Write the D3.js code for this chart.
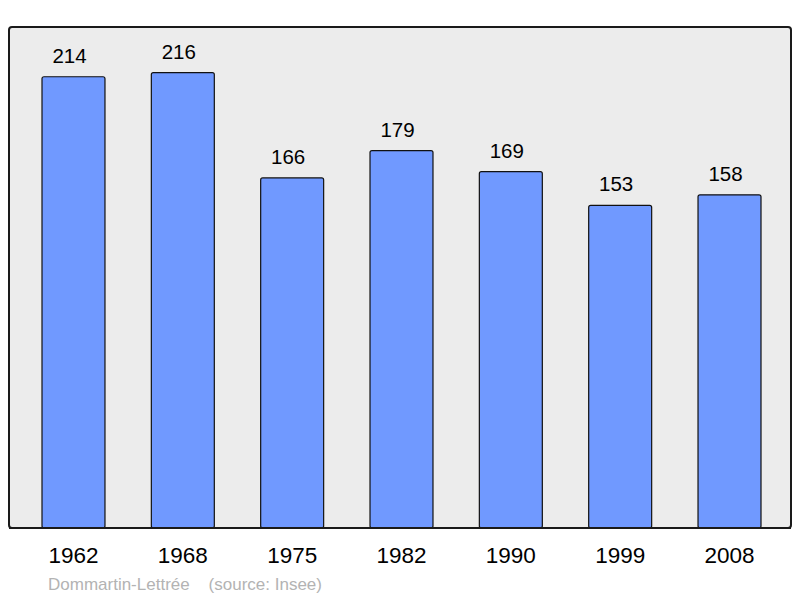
<!DOCTYPE html>
<html>
<head>
<meta charset="utf-8">
<script src="https://cdn.jsdelivr.net/npm/d3@7"></script>
<style>
  body { margin: 0; background: #fff; }
  svg { display: block; font-family: 'Liberation Sans', Arial, sans-serif; }
</style>
</head>
<body>
<div id="chart"></div>
<script>
const years = ['1962', '1968', '1975', '1982', '1990', '1999', '2008'];
const population = [214, 216, 166, 179, 169, 153, 158];
const caption = 'Dommartin-Lettrée    (source: Insee)';

const width = 800;
const height = 598;
const frame = { left: 9, right: 791, top: 27, bottom: 528 };

const svg = d3.select('#chart').append('svg')
  .attr('width', width)
  .attr('height', height)
  .attr('viewBox', [0, 0, width, height]);

const x = d3.scaleBand()
  .domain(years)
  .range([42, 761])
  .paddingInner(0.424)
  .paddingOuter(0);

const y = d3.scaleLinear()
  .domain([0, d3.max(population) * 1.1])
  .range([frame.bottom, frame.top]);

// background frame
svg.append('rect')
  .attr('x', frame.left)
  .attr('y', frame.top)
  .attr('width', frame.right - frame.left)
  .attr('height', frame.bottom - frame.top)
  .attr('rx', 3)
  .attr('fill', '#ececec')
  .attr('stroke', '#1a1a1a')
  .attr('stroke-width', 2);

const data = years.map((yr, i) => ({ year: yr, value: population[i] }));

svg.append('g')
  .selectAll('rect')
    .data(data)
  .enter().append('rect')
    .attr('x', d => x(d.year))
    .attr('y', d => y(d.value))
    .attr('width', x.bandwidth())
    .attr('height', d => frame.bottom - y(d.value))
    .attr('rx', 2)
    .attr('fill', '#7099ff')
    .attr('stroke', '#111')
    .attr('stroke-width', 1.2);

// redraw bottom edge of frame over bars
svg.append('line')
  .attr('x1', frame.left)
  .attr('x2', frame.right)
  .attr('y1', frame.bottom)
  .attr('y2', frame.bottom)
  .attr('stroke', '#1a1a1a')
  .attr('stroke-width', 2);

svg.append('g')
  .selectAll('text')
    .data(data)
  .enter().append('text')
    .attr('x', d => x(d.year) + x.bandwidth() / 2 - 4)
    .attr('y', d => y(d.value) - 14)
    .attr('text-anchor', 'middle')
    .attr('font-size', 20.5)
    .attr('fill', '#000')
    .text(d => d.value);

// x axis labels
svg.append('g')
  .attr('transform', `translate(0,${frame.bottom})`)
  .call(d3.axisBottom(x).tickSize(0).tickPadding(19))
  .attr('font-size', 22.5)
  .attr('font-family', null)
  .call(g => g.select('.domain').remove())
  .selectAll('text').attr('fill', '#000');

svg.append('text')
  .attr('x', 48)
  .attr('y', 590)
  .attr('font-size', 17)
  .attr('fill', '#b3b3b3')
  .attr('xml:space', 'preserve')
  .style('white-space', 'pre')
  .text(caption);
</script>
</body>
</html>
